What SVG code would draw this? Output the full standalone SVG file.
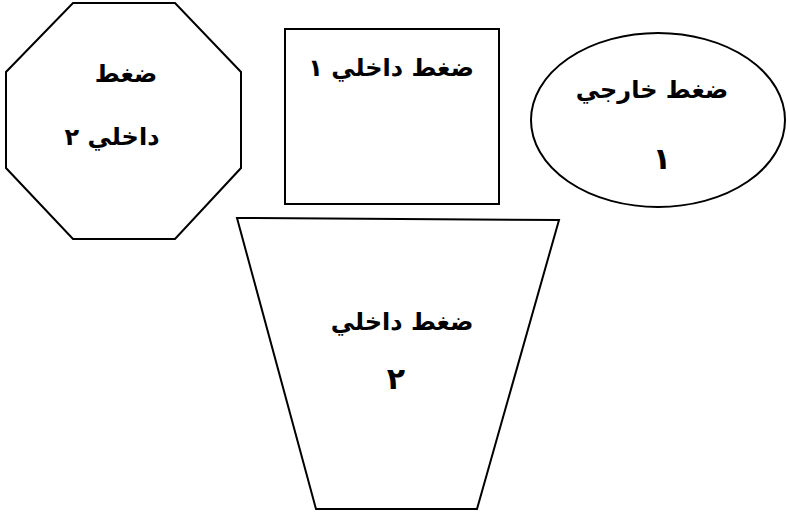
<svg xmlns="http://www.w3.org/2000/svg" width="787" height="515" viewBox="0 0 787 515">
<style>
.s{fill:#fff;stroke:#000;stroke-width:2}
.t{font-family:"DejaVu Sans",sans-serif;font-weight:bold;font-size:24px;fill:#000;text-anchor:middle}
.d{font-size:30px}
</style>
<rect width="787" height="515" fill="#fff"/>
<g id="octagon">
<polygon class="s" points="73,3 175,3 241,72 241,168 175,239 73,239 6,168 6,72"/>
<text class="t" x="126" y="82">ضغط</text>
<text class="t" x="112" y="145">داخلي ٢</text>
</g>
<g id="rect">
<rect class="s" x="285" y="29" width="214" height="175"/>
<text class="t" x="391" y="76">ضغط داخلي ١</text>
</g>
<g id="ellipse">
<ellipse class="s" cx="658" cy="120" rx="127" ry="87"/>
<text class="t" x="652" y="98">ضغط خارجي</text>
<text class="t d" x="662" y="169">١</text>
</g>
<g id="trapezoid">
<polygon class="s" points="237,218 559,220 477,509 316,509"/>
<text class="t" x="402" y="330">ضغط داخلي</text>
<text class="t d" x="396" y="389">٢</text>
</g>
<g id="connectors"></g>
</svg>
